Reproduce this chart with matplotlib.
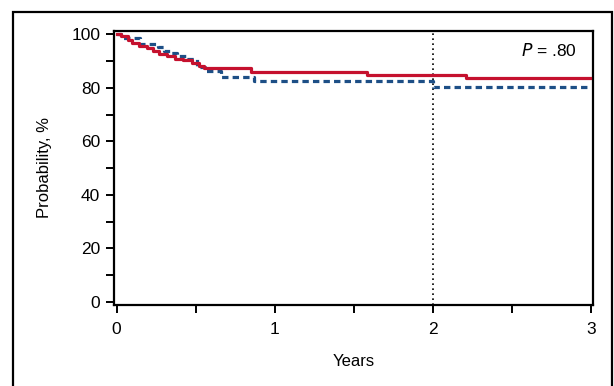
import matplotlib
matplotlib.use('Agg')
import matplotlib.pyplot as plt
from matplotlib.patches import Rectangle
from matplotlib.ticker import MultipleLocator
from matplotlib import font_manager

# Kaplan-Meier style step curves (years, probability %)
red_times = [0, 0.03, 0.07, 0.10, 0.14, 0.19, 0.23, 0.27, 0.32, 0.37, 0.42, 0.48, 0.52, 0.55, 0.85, 1.58, 2.21, 2.99]
red_values = [100, 99.3, 98.0, 96.8, 95.6, 94.9, 93.9, 92.7, 91.8, 91.0, 90.5, 89.3, 88.2, 87.6, 85.8, 84.8, 83.8, 83.8]

blue_times = [0, 0.03, 0.15, 0.26, 0.30, 0.34, 0.38, 0.44, 0.51, 0.56, 0.66, 0.87, 2.0, 2.99]
blue_values = [100, 98.6, 96.5, 95.3, 94.0, 93.0, 91.8, 90.8, 87.9, 86.2, 84.2, 82.7, 80.4, 80.4]

x_ticks = [0, 1, 2, 3]
y_ticks = [0, 20, 40, 60, 80, 100]
landmark = 2
p_text = '.80'

names = {f.name for f in font_manager.fontManager.ttflist}
narrow = 'Liberation Sans Narrow' if 'Liberation Sans Narrow' in names else 'Liberation Sans'
plt.rcParams['font.family'] = ['Liberation Sans', 'DejaVu Sans']

fig = plt.figure(figsize=(6.14, 3.86), dpi=100)
ax = fig.add_axes([113.5 / 614, 81 / 386, (593 - 113.5) / 614, (355 - 81) / 386])

ax.step(blue_times, blue_values, where='post', color='#1d4f86', lw=2.3,
        linestyle=(0, (2.0, 1.3)), zorder=3)
ax.step(red_times, red_values, where='post', color='#c5112e', lw=2.3, zorder=4)
ax.axvline(landmark, color='black', lw=1.2, linestyle=(0, (1, 2)), zorder=2)

ax.set_xlim(-0.019, 3.01)
ax.set_ylim(-1.2, 101.3)
ax.set_xticks(x_ticks)
ax.set_yticks(y_ticks)
ax.xaxis.set_minor_locator(MultipleLocator(0.5))
ax.yaxis.set_minor_locator(MultipleLocator(10))
ax.tick_params(which='both', direction='out', length=5.5, width=1.4, labelsize=12.5)
ax.tick_params(axis='x', pad=7)
ax.tick_params(axis='y', pad=4)
for s in ax.spines.values():
    s.set_linewidth(1.6)

ax.set_xlabel('Years', family=narrow, fontsize=12, labelpad=12)
ax.set_ylabel('Probability, %', family=narrow, fontsize=12, labelpad=14)

ax.text(0.967, 0.93, r'$\it{P}$' + ' = ' + p_text, transform=ax.transAxes,
        ha='right', va='center', fontsize=12.5)

# outer frame around the figure
fig.patches.append(Rectangle((13 / 614, -0.1), (612 - 13) / 614, 1.1 - 12 / 386,
                             transform=fig.transFigure, fill=False, lw=1.6,
                             edgecolor='black'))

fig.savefig('out.png', dpi=100)
